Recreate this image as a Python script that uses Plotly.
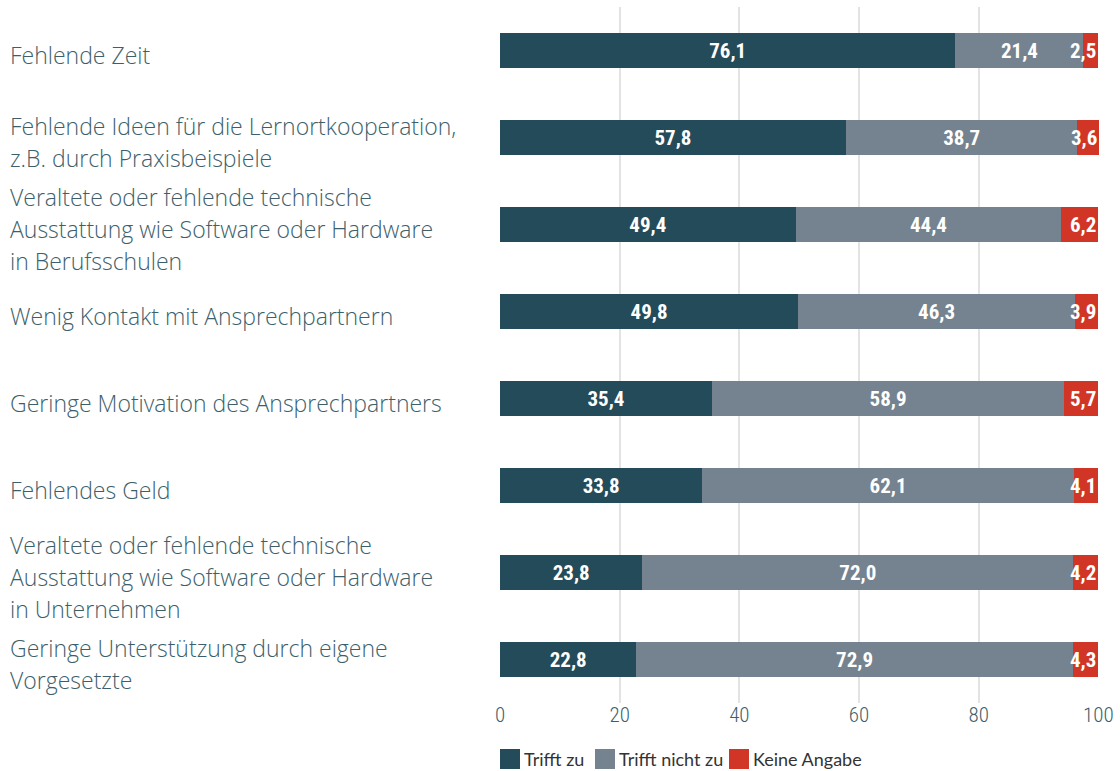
import plotly.graph_objects as go

categories = [
    "Fehlende Zeit",
    "Fehlende Ideen für die Lernortkooperation,<br>z.B. durch Praxisbeispiele",
    "Veraltete oder fehlende technische<br>Ausstattung wie Software oder Hardware<br>in Berufsschulen",
    "Wenig Kontakt mit Ansprechpartnern",
    "Geringe Motivation des Ansprechpartners",
    "Fehlendes Geld",
    "Veraltete oder fehlende technische<br>Ausstattung wie Software oder Hardware<br>in Unternehmen",
    "Geringe Unterstützung durch eigene<br>Vorgesetzte",
]
trifft_zu = [76.1, 57.8, 49.4, 49.8, 35.4, 33.8, 23.8, 22.8]
trifft_nicht_zu = [21.4, 38.7, 44.4, 46.3, 58.9, 62.1, 72.0, 72.9]
keine_angabe = [2.5, 3.6, 6.2, 3.9, 5.7, 4.1, 4.2, 4.3]
series_names = ["Trifft zu", "Trifft nicht zu", "Keine Angabe"]
tick_vals = [0, 20, 40, 60, 80, 100]

colors = ["#244b5a", "#74838f", "#d13526"]
num_font = dict(family="Roboto Condensed, Liberation Sans Narrow, Roboto", size=21, color="white", weight="bold")
label_color = "#3d5f6b"


def fmt(v):
    return f"{v:.1f}".replace(".", ",")


totals = [a + b + c for a, b, c in zip(trifft_zu, trifft_nicht_zu, keine_angabe)]
x_max = max(max(totals), 100)

W, H = 1120, 771
L, R, T, B = 500, 21, 7, 68
PW = W - L - R
PH = H - T - B

fig = go.Figure()
for name, vals, col, show_text in zip(series_names, [trifft_zu, trifft_nicht_zu, keine_angabe], colors,
                                      [True, True, False]):
    fig.add_trace(go.Bar(
        y=categories, x=vals, name=name, orientation="h",
        marker=dict(color=col, line=dict(width=0)),
        text=[fmt(v) for v in vals] if show_text else None,
        textposition="inside" if show_text else "none",
        insidetextanchor="middle", constraintext="none", textangle=0,
        textfont=num_font, cliponaxis=False, showlegend=False,
    ))

# labels of the small red segments, right-aligned to the bar end
for cat, tot, c in zip(categories, totals, keine_angabe):
    fig.add_annotation(xref="x", yref="y", x=tot, y=cat, text=fmt(c),
                       xanchor="right", yanchor="middle", showarrow=False,
                       font=num_font)

# left-aligned category labels
for cat in categories:
    lines = cat.split("<br>")
    n = len(lines)
    for i, line in enumerate(lines):
        fig.add_annotation(
            xref="paper", yref="y", x=-(L - 8) / PW, y=cat, text=line,
            xanchor="left", yanchor="middle", showarrow=False,
            yshift=((n - 1) / 2 - i) * 32 - 4,
            font=dict(family="Open Sans", size=23, color=label_color, weight=300),
        )

# custom legend (square swatches + labels)
legend_px = [0, 95, 229]  # swatch left edges relative to plot left
sw = 20
ly_top = 749
for name, col, px in zip(series_names, colors, legend_px):
    fig.add_shape(type="rect", xref="paper", yref="paper",
                  x0=px / PW, x1=(px + sw) / PW,
                  y0=1 - (ly_top - T) / PH, y1=1 - (ly_top + sw - T) / PH,
                  fillcolor=col, line=dict(width=0))
    fig.add_annotation(xref="paper", yref="paper", x=(px + sw + 2) / PW,
                       y=1 - (ly_top + sw / 2 - T) / PH, text=name,
                       xanchor="left", yanchor="middle", showarrow=False,
                       font=dict(family="Lato, Open Sans", size=18, color="#333333"))

fig.update_layout(
    width=W, height=H,
    margin=dict(l=L, r=R, t=T, b=B),
    barmode="stack", bargap=0.6,
    plot_bgcolor="white", paper_bgcolor="white",
    showlegend=False,
    xaxis=dict(range=[0, x_max], tickvals=tick_vals, showgrid=True, gridcolor="#e3e3e3", gridwidth=2,
               zeroline=False, showline=False, ticks="", ticklabelstandoff=-3,
               tickfont=dict(family="Roboto Condensed, Liberation Sans Narrow, Roboto", size=21,
                             color=label_color, weight=300)),
    yaxis=dict(autorange="reversed", showticklabels=False, showgrid=False, zeroline=False, ticks=""),
)

fig.write_html("out.html", config={"displayModeBar": False},
               post_script="document.body.style.margin='0';document.body.style.overflow='hidden';")
